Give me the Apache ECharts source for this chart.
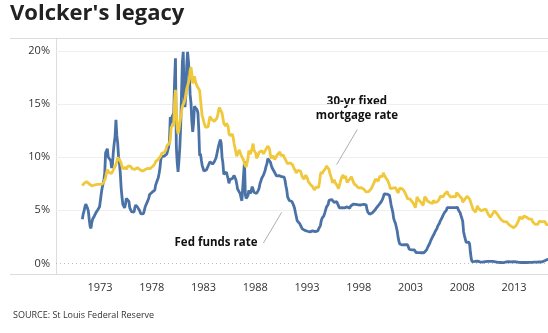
<!DOCTYPE html>
<html>
<head>
<meta charset="utf-8">
<script src="https://cdn.jsdelivr.net/npm/echarts@6.0.0/dist/echarts.min.js"></script>
<style>
  html, body { margin: 0; padding: 0; background: #fff; }
  #chart { width: 548px; height: 333px; }
</style>
</head>
<body>
<div id="chart"></div>
<script>
// Monthly series, first value = April 1971, last value = April 2016
const START_YEAR = 1971;
const START_MONTH = 3; // zero-based: April

// Effective federal funds rate, %
const fedFunds = [
  4.15, 4.63, 4.91, 5.31, 5.57, 5.55, 5.20, 4.91, 4.14,
  3.50, 3.29, 3.83, 4.17, 4.27, 4.46, 4.55, 4.80, 4.87, 5.04, 5.06, 5.33,
  5.94, 6.58, 7.09, 7.12, 7.84, 8.49, 10.40, 10.50, 10.78, 10.01, 10.03, 9.95,
  9.65, 8.97, 9.35, 10.51, 11.31, 11.93, 13.50, 12.01, 11.34, 10.06, 9.45, 8.53,
  7.13, 6.24, 5.54, 5.49, 5.22, 5.55, 6.10, 6.14, 6.24, 5.82, 5.22, 5.20,
  4.87, 4.77, 4.84, 4.82, 5.29, 5.48, 5.31, 5.29, 5.25, 5.03, 4.95, 4.65,
  4.61, 4.68, 4.69, 4.73, 5.35, 5.39, 5.42, 5.90, 6.14, 6.47, 6.51, 6.56,
  6.70, 6.78, 6.79, 6.89, 7.36, 7.60, 7.81, 8.04, 8.45, 8.96, 9.76, 10.03,
  10.07, 10.06, 10.09, 10.01, 10.24, 10.29, 10.47, 10.94, 11.43, 13.77, 13.18, 13.78,
  13.82, 14.13, 17.19, 19.30, 10.98, 9.47, 8.60, 9.61, 10.87, 12.81, 15.85, 18.90,
  19.90, 15.93, 14.70, 15.72, 18.52, 19.90, 19.04, 17.82, 15.87, 15.08, 13.31, 12.37,
  13.22, 14.78, 14.68, 14.94, 14.45, 14.15, 12.59, 10.12, 10.31, 9.71, 9.20, 8.95,
  8.68, 8.51, 8.77, 8.80, 8.63, 8.98, 9.37, 9.56, 9.45, 9.48, 9.34, 9.47,
  9.56, 9.59, 9.91, 10.29, 10.32, 11.06, 11.23, 11.64, 11.30, 9.99, 9.43, 8.38,
  8.35, 8.50, 8.58, 8.27, 7.97, 7.53, 7.88, 7.90, 7.92, 7.99, 8.05, 8.27,
  8.14, 7.86, 7.48, 6.99, 6.85, 6.92, 6.56, 6.17, 5.89, 5.85, 6.04, 9.60,
  6.43, 6.10, 6.13, 6.37, 6.85, 6.73, 6.58, 6.73, 7.22, 7.29, 6.69, 6.77,
  6.83, 6.58, 6.58, 6.87, 7.09, 7.51, 7.75, 8.01, 8.19, 8.30, 8.35, 8.76,
  9.12, 9.36, 9.85, 9.84, 9.81, 9.53, 9.24, 8.99, 9.02, 8.84, 8.55, 8.45,
  8.23, 8.24, 8.28, 8.26, 8.18, 8.29, 8.15, 8.13, 8.20, 8.11, 7.81, 7.31,
  6.91, 6.25, 6.12, 5.91, 5.78, 5.90, 5.82, 5.66, 5.45, 5.21, 4.81, 4.43,
  4.03, 4.06, 3.98, 3.73, 3.82, 3.76, 3.25, 3.30, 3.22, 3.10, 3.09, 2.92,
  3.02, 3.03, 3.07, 2.96, 3.00, 3.04, 3.06, 3.03, 3.09, 2.99, 3.02, 2.96,
  3.05, 3.25, 3.34, 3.56, 4.01, 4.25, 4.26, 4.47, 4.73, 4.76, 5.29, 5.45,
  5.53, 5.92, 5.98, 6.05, 6.01, 6.00, 5.85, 5.74, 5.80, 5.76, 5.80, 5.60,
  5.56, 5.22, 5.31, 5.22, 5.24, 5.27, 5.40, 5.22, 5.30, 5.24, 5.31, 5.29,
  5.25, 5.19, 5.39, 5.51, 5.50, 5.56, 5.52, 5.54, 5.54, 5.50, 5.52, 5.50,
  5.56, 5.51, 5.49, 5.45, 5.49, 5.56, 5.54, 5.55, 5.51, 5.07, 4.83, 4.68,
  4.63, 4.76, 4.81, 4.74, 4.74, 4.76, 4.99, 5.07, 5.22, 5.20, 5.42, 5.30,
  5.45, 5.73, 5.85, 6.02, 6.27, 6.53, 6.54, 6.50, 6.52, 6.51, 6.51, 6.40,
  5.98, 5.49, 5.31, 4.80, 4.21, 3.97, 3.77, 3.65, 3.07, 2.49, 2.09, 1.82,
  1.73, 1.74, 1.73, 1.75, 1.75, 1.75, 1.73, 1.74, 1.75, 1.75, 1.34, 1.24,
  1.24, 1.26, 1.25, 1.26, 1.26, 1.22, 1.01, 1.03, 1.01, 1.01, 1.00, 0.98,
  1.00, 1.01, 1.00, 1.00, 1.00, 1.03, 1.26, 1.43, 1.61, 1.76, 1.93, 2.16,
  2.28, 2.50, 2.63, 2.79, 3.00, 3.04, 3.26, 3.50, 3.62, 3.78, 4.00, 4.16,
  4.29, 4.49, 4.59, 4.79, 4.94, 4.99, 5.24, 5.25, 5.25, 5.25, 5.25, 5.24,
  5.25, 5.26, 5.26, 5.25, 5.25, 5.25, 5.26, 5.02, 4.94, 4.76, 4.49, 4.24,
  3.94, 2.98, 2.61, 2.28, 1.98, 2.00, 2.01, 2.00, 1.81, 0.97, 0.39, 0.16,
  0.15, 0.22, 0.18, 0.15, 0.18, 0.21, 0.16, 0.16, 0.15, 0.12, 0.12, 0.12,
  0.11, 0.13, 0.16, 0.20, 0.20, 0.18, 0.18, 0.19, 0.19, 0.19, 0.19, 0.18,
  0.17, 0.16, 0.14, 0.10, 0.09, 0.09, 0.07, 0.10, 0.08, 0.07, 0.08, 0.07,
  0.08, 0.10, 0.13, 0.14, 0.16, 0.16, 0.16, 0.13, 0.14, 0.16, 0.16, 0.16,
  0.14, 0.15, 0.14, 0.15, 0.11, 0.09, 0.09, 0.08, 0.08, 0.09, 0.08, 0.09,
  0.07, 0.07, 0.08, 0.09, 0.09, 0.10, 0.09, 0.09, 0.09, 0.09, 0.09, 0.12,
  0.11, 0.11, 0.11, 0.12, 0.12, 0.13, 0.13, 0.14, 0.14, 0.12, 0.12, 0.24,
  0.34, 0.38, 0.36, 0.37
];

// 30-year fixed mortgage rate, %
const mortgage = [
  7.31, 7.43, 7.53, 7.60, 7.70, 7.69, 7.63, 7.55, 7.48,
  7.44, 7.32, 7.29, 7.29, 7.37, 7.37, 7.40, 7.40, 7.43, 7.45, 7.45, 7.44,
  7.44, 7.44, 7.46, 7.54, 7.65, 7.73, 8.05, 8.50, 8.82, 8.65, 8.54, 8.56,
  8.54, 8.46, 8.41, 8.58, 8.97, 9.09, 9.28, 9.59, 9.96, 9.98, 9.79, 9.62,
  9.43, 9.10, 8.89, 8.83, 8.99, 9.05, 8.84, 8.86, 9.16, 9.25, 9.19, 9.12,
  9.08, 8.89, 8.93, 8.81, 8.85, 9.00, 8.99, 9.00, 8.93, 8.86, 8.80, 8.71,
  8.72, 8.67, 8.69, 8.75, 8.83, 8.86, 8.94, 8.94, 8.90, 8.92, 8.92, 8.96,
  9.02, 9.15, 9.20, 9.36, 9.57, 9.71, 9.74, 9.78, 9.76, 9.86, 10.11, 10.35,
  10.39, 10.41, 10.43, 10.50, 10.69, 11.04, 11.09, 11.09, 11.30, 11.64, 12.83, 12.90,
  12.88, 13.04, 15.28, 16.32, 14.26, 12.71, 12.19, 12.56, 13.20, 13.79, 14.21, 14.79,
  14.90, 15.13, 15.40, 15.58, 16.40, 16.70, 16.83, 17.29, 18.16, 18.45, 17.83, 16.92,
  17.40, 17.60, 17.16, 16.89, 16.68, 16.70, 16.82, 16.27, 15.43, 14.61, 13.83, 13.62,
  13.25, 13.04, 12.80, 12.78, 12.63, 12.87, 13.42, 13.81, 13.73, 13.54, 13.44, 13.42,
  13.37, 13.23, 13.39, 13.65, 13.94, 14.42, 14.67, 14.47, 14.35, 14.13, 13.64, 13.18,
  13.08, 12.92, 13.17, 13.20, 12.91, 12.22, 12.03, 12.19, 12.19, 12.14, 11.78, 11.26,
  10.88, 10.71, 10.08, 9.94, 10.14, 10.68, 10.51, 10.20, 10.01, 9.98, 9.70, 9.32,
  9.20, 9.08, 9.04, 9.83, 10.60, 10.54, 10.28, 10.33, 10.89, 11.26, 10.65, 10.64,
  10.38, 9.89, 9.93, 10.20, 10.46, 10.46, 10.43, 10.60, 10.48, 10.30, 10.27, 10.61,
  10.73, 10.65, 11.03, 11.05, 10.77, 10.20, 9.88, 9.99, 10.13, 9.95, 9.77, 9.74,
  9.90, 10.20, 10.27, 10.37, 10.48, 10.16, 10.04, 10.10, 10.18, 10.18, 10.01, 9.67,
  9.64, 9.37, 9.50, 9.49, 9.47, 9.62, 9.58, 9.24, 9.01, 8.86, 8.71, 8.50,
  8.43, 8.76, 8.94, 8.85, 8.67, 8.51, 8.13, 7.98, 7.92, 8.09, 8.31, 8.22,
  7.99, 7.68, 7.50, 7.47, 7.47, 7.42, 7.21, 7.11, 6.91, 6.83, 7.16, 7.17,
  7.06, 7.15, 7.68, 8.32, 8.60, 8.40, 8.61, 8.51, 8.64, 8.93, 9.17, 9.20,
  9.15, 8.83, 8.46, 8.32, 7.96, 7.57, 7.61, 7.86, 7.64, 7.48, 7.38, 7.20,
  7.03, 7.08, 7.62, 7.93, 8.07, 8.32, 8.25, 8.00, 8.23, 7.92, 7.62, 7.60,
  7.82, 7.65, 7.90, 8.14, 7.94, 7.69, 7.50, 7.48, 7.43, 7.29, 7.21, 7.10,
  6.99, 7.04, 7.13, 7.14, 7.14, 7.00, 6.95, 6.92, 6.72, 6.71, 6.87, 6.74,
  6.79, 6.81, 7.04, 6.92, 7.15, 7.55, 7.63, 7.94, 7.82, 7.85, 7.74, 7.91,
  8.21, 8.33, 8.24, 8.15, 8.52, 8.29, 8.15, 8.03, 7.91, 7.80, 7.75, 7.38,
  7.03, 7.05, 6.95, 7.08, 7.15, 7.16, 7.13, 6.95, 6.82, 6.62, 6.66, 7.07,
  7.00, 6.89, 7.01, 6.99, 6.81, 6.65, 6.49, 6.29, 6.09, 6.11, 6.07, 6.05,
  5.92, 5.84, 5.75, 5.81, 5.48, 5.23, 5.63, 6.26, 6.15, 5.95, 5.93, 5.88,
  5.71, 5.64, 5.45, 5.83, 6.27, 6.29, 6.06, 5.87, 5.75, 5.72, 5.73, 5.75,
  5.71, 5.63, 5.93, 5.86, 5.72, 5.58, 5.70, 5.82, 5.77, 6.07, 6.33, 6.27,
  6.15, 6.25, 6.32, 6.51, 6.60, 6.68, 6.76, 6.52, 6.40, 6.36, 6.24, 6.14,
  6.22, 6.29, 6.16, 6.18, 6.26, 6.66, 6.70, 6.57, 6.38, 6.38, 6.21, 6.10,
  5.76, 5.92, 5.97, 5.92, 6.04, 6.32, 6.43, 6.48, 6.04, 6.20, 6.09, 5.33,
  5.06, 5.13, 5.00, 4.81, 4.86, 5.42, 5.22, 5.19, 5.06, 4.95, 4.88, 4.93,
  5.03, 4.99, 4.97, 5.10, 4.89, 4.74, 4.56, 4.43, 4.35, 4.23, 4.30, 4.71,
  4.76, 4.95, 4.84, 4.84, 4.64, 4.51, 4.55, 4.27, 4.11, 4.07, 3.99, 3.96,
  3.92, 3.89, 3.95, 3.91, 3.80, 3.68, 3.55, 3.60, 3.50, 3.38, 3.35, 3.35,
  3.41, 3.53, 3.57, 3.45, 3.54, 4.07, 4.37, 4.46, 4.49, 4.19, 4.26, 4.46,
  4.43, 4.30, 4.34, 4.34, 4.19, 4.16, 4.13, 4.12, 4.16, 3.92, 3.92, 3.86,
  3.67, 3.71, 3.77, 3.67, 3.84, 3.98, 4.05, 3.91, 3.89, 3.80, 3.94, 3.96,
  3.87, 3.66, 3.69, 3.61
];

const yearTicks = [1973, 1978, 1983, 1988, 1993, 1998, 2003, 2008, 2013];
const rateTicks = [0, 5, 10, 15, 20];

const seriesLabels = {
  fed: 'Fed funds rate',
  mortgageLine1: '30-yr fixed',
  mortgageLine2: 'mortgage rate'
};

const FONT = '"Open Sans", "DejaVu Sans", sans-serif';
const BLUE = '#4A72A6';
const GOLD = '#F0C83C';

// month index -> decimal year at the middle of that month
function toPoints(values) {
  return values.map((v, i) => {
    const m = START_MONTH + i;
    return [START_YEAR + Math.floor(m / 12) + ((m % 12) + 0.5) / 12, v];
  });
}

const chart = echarts.init(document.getElementById('chart'), null, { renderer: 'canvas' });

const gridLines = rateTicks.filter(v => v > 0).map(v => ({ yAxis: v }));
gridLines.push({ yAxis: 0, lineStyle: { type: [1, 3], color: '#bdbdbd', width: 1 } });

chart.setOption({
  animation: false,
  backgroundColor: '#ffffff',
  grid: { left: 56, right: 0, top: 38, bottom: 59, containLabel: false },
  xAxis: {
    type: 'value',
    min: 1968.75,
    max: 2016.28,
    axisLine: { show: false },
    axisTick: { show: false },
    splitLine: { show: false },
    axisLabel: {
      customValues: yearTicks,
      formatter: v => String(v),
      color: '#333',
      fontFamily: FONT,
      fontSize: 11,
      margin: 8
    }
  },
  yAxis: {
    type: 'value',
    min: -1,
    max: 21.2,
    axisLine: { show: true, lineStyle: { color: '#dcdcdc', width: 1 } },
    axisTick: { show: false },
    splitLine: { show: false },
    axisLabel: {
      customValues: rateTicks,
      formatter: v => v + '%',
      color: '#333',
      fontFamily: FONT,
      fontSize: 11,
      margin: 6
    }
  },
  series: [
    {
      name: seriesLabels.fed,
      type: 'line',
      data: toPoints(fedFunds),
      showSymbol: false,
      lineStyle: { color: BLUE, width: 2.8 },
      z: 3,
      markLine: {
        silent: true,
        symbol: 'none',
        label: { show: false },
        lineStyle: { color: '#efefef', width: 1, type: 'solid' },
        data: gridLines,
        z: 1
      }
    },
    {
      name: 'mortgage',
      type: 'line',
      data: toPoints(mortgage),
      showSymbol: false,
      lineStyle: { color: GOLD, width: 2.8 },
      z: 4,
      markLine: {
        silent: true,
        symbol: 'none',
        label: { show: false },
        lineStyle: { color: '#9a9a9a', width: 0.8, type: 'solid' },
        data: [
          [{ coord: [1997.86, 12.6] }, { coord: [1995.87, 9.3] }],
          [{ coord: [1988.78, 1.9] }, { coord: [1990.55, 4.8] }]
        ]
      }
    }
  ],
  graphic: [
    {
      type: 'text', left: 10, top: 3,
      style: { text: "Volcker's legacy", fill: '#222', font: 'bold 22px ' + FONT }
    },
    {
      type: 'line', silent: true,
      shape: { x1: 10, y1: 38.5, x2: 548, y2: 38.5 },
      style: { stroke: '#dcdcdc', lineWidth: 1 }
    },
    {
      type: 'line', silent: true,
      shape: { x1: 10, y1: 274.5, x2: 548, y2: 274.5 },
      style: { stroke: '#dcdcdc', lineWidth: 1 }
    },
    {
      type: 'text', x: 357, y: 102,
      style: { text: seriesLabels.mortgageLine1, fill: '#111', font: 'bold 11.5px ' + FONT, textAlign: 'center', textVerticalAlign: 'middle' }
    },
    {
      type: 'text', x: 357, y: 115.5,
      style: { text: seriesLabels.mortgageLine2, fill: '#111', font: 'bold 11.5px ' + FONT, textAlign: 'center', textVerticalAlign: 'middle' }
    },
    {
      type: 'text', x: 216, y: 242.5,
      style: { text: seriesLabels.fed, fill: '#111', font: 'bold 11.5px ' + FONT, textAlign: 'center', textVerticalAlign: 'middle' }
    },
    {
      type: 'text', left: 13, top: 311,
      style: { text: 'SOURCE: St Louis Federal Reserve', fill: '#333', font: '9px ' + FONT }
    }
  ]
});
</script>
</body>
</html>
